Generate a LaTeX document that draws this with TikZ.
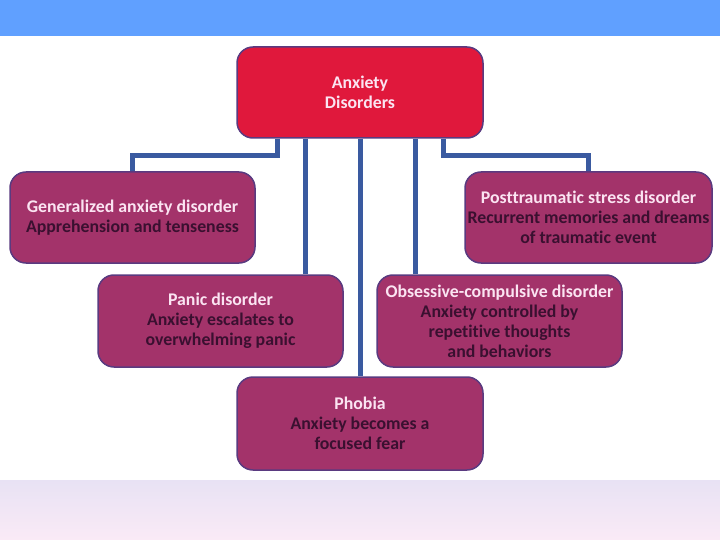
\documentclass[tikz,border=0pt]{standalone}
\usepackage{fontspec}
\setmainfont{Carlito}[RawFeature=-liga]
\usetikzlibrary{calc}
\definecolor{topband}{HTML}{60A0FF}
\definecolor{bandA}{HTML}{E8E2F4}
\definecolor{bandB}{HTML}{FAEAF6}
\definecolor{rootred}{HTML}{E0183C}
\definecolor{boxfill}{HTML}{A3336A}
\definecolor{boxborder}{HTML}{5A3A80}
\definecolor{linkblue}{HTML}{3A5AA0}
\definecolor{titletxt}{HTML}{FBE4F2}
\definecolor{subtxt}{HTML}{3A1030}
\tikzset{
  cat/.style={draw=boxborder, line width=1.5pt, fill=boxfill, rounded corners=16pt,
    minimum width=245pt, minimum height=91pt, align=center, inner sep=2pt,
    font=\bfseries\fontsize{17.8}{20}\selectfont, text=titletxt},
  rootbox/.style={cat, fill=rootred},
  link/.style={draw=linkblue, line width=5pt}
}
\newcommand{\sbt}[1]{\textcolor{subtxt}{#1}}
\begin{document}
\begin{tikzpicture}[x=1pt,y=1pt]
\useasboundingbox (0,0) rectangle (720,-540);
\fill[topband] (0,0) rectangle (720,-36);
\shade[top color=bandA, bottom color=bandB] (0,-480) rectangle (720,-540);
\node[rootbox, minimum width=246pt] (root) at (360,-92.5) {Anxiety\\Disorders};
\node[cat] (gad) at (132.5,-217.5) {Generalized anxiety disorder\\\sbt{Apprehension and tenseness}};
\node[cat, minimum width=247pt] (ptsd) at (588.5,-217.5) {Posttraumatic stress disorder\\\sbt{Recurrent memories and dreams}\\\sbt{of traumatic event}};
\node[cat, minimum height=92pt] (panic) at (220.5,-321) {Panic disorder\\\sbt{Anxiety escalates to}\\\sbt{overwhelming panic}};
\node[cat, minimum height=92pt] (ocd) at (499.5,-321) {Obsessive-compulsive disorder\\\sbt{Anxiety controlled by}\\\sbt{repetitive thoughts}\\\sbt{and behaviors}};
\node[cat, minimum width=246pt, minimum height=93pt] (phobia) at (360,-423.5) {Phobia\\\sbt{Anxiety becomes a}\\\sbt{focused fear}};
\draw[link] ([xshift=-83pt]root.south) -- ++(0,-17) -| (gad.north);
\draw[link] ([xshift=83pt]root.south) -- ++(0,-17) -| (ptsd.north);
\draw[link] ([xshift=-55pt]root.south) -- ([xshift=-55pt]root.south |- panic.north);
\draw[link] ([xshift=55pt]root.south) -- ([xshift=55pt]root.south |- ocd.north);
\draw[link] (root.south) -- (phobia.north);
\end{tikzpicture}
\end{document}
